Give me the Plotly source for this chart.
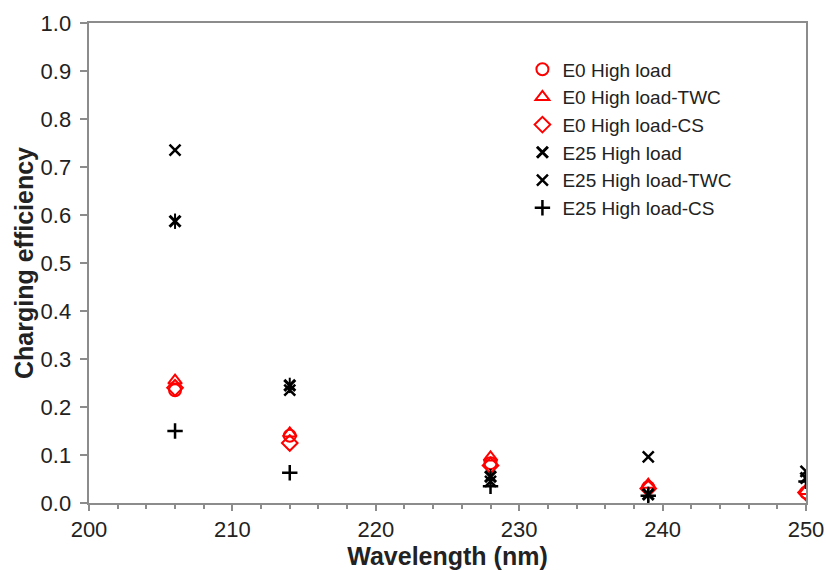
import plotly.graph_objects as go

wavelength = [206, 214, 228, 239, 250]
e0_high = [0.235, 0.140, 0.083, 0.033, 0.022]
e0_high_twc = [0.255, 0.145, 0.095, 0.038, 0.025]
e0_high_cs = [0.240, 0.125, 0.078, 0.030, 0.022]
e25_high = [0.587, 0.245, 0.055, 0.018, 0.052]
e25_high_twc = [0.735, 0.235, 0.045, 0.096, 0.066]
e25_high_cs = [0.150, 0.063, 0.035, 0.015, 0.045]

RED = "#ff0000"
BLK = "#000000"
FONT = "Liberation Sans, Arial"
fig = go.Figure()

def add(name, y, symbol, color, size=11, lw=2, show=True, group=None):
    fig.add_trace(go.Scatter(
        x=wavelength, y=y, mode="markers", name=name, showlegend=show,
        legendgroup=group or name,
        marker=dict(symbol=symbol, size=size, color=color,
                    line=dict(color=color, width=lw))))

add("E0 High load", e0_high, "circle-open", RED, 12)
add("E0 High load-TWC", e0_high_twc, "triangle-up-open", RED, 12)
add("E0 High load-CS", e0_high_cs, "diamond-open", RED, 12)
add("E25 High load", e25_high, "x-thin-open", BLK, 11, 3)
add("E25 High load", e25_high, "line-ns-open", BLK, 11, 2, show=False, group="E25 High load")
add("E25 High load-TWC", e25_high_twc, "x-thin-open", BLK, 11, 2.5)
add("E25 High load-CS", e25_high_cs, "cross-thin-open", BLK, 11, 2.5)

axis_common = dict(showline=True, linecolor="#8c8c8c", linewidth=2, mirror=True,
                   showgrid=False, zeroline=False, ticks="outside", automargin=False,
                   tickcolor="#8c8c8c", tickwidth=2,
                   tickfont=dict(family=FONT, size=22, color="#222"))

fig.update_xaxes(range=[200, 250], dtick=10, tick0=200, ticklen=6,
                 minor=dict(dtick=2, ticks="outside", ticklen=4, tickcolor="#8c8c8c", tickwidth=1.5),
                 title=dict(text="<b>Wavelength (nm)</b>", standoff=0,
                            font=dict(family=FONT, size=25, color="#222")),
                 **axis_common)
fig.update_yaxes(range=[0, 1.0], dtick=0.1, tickformat=".1f", ticklen=7,
                 ticksuffix="\u2009",
                 title=dict(text="<b>Charging efficiency</b>", standoff=0,
                            font=dict(family=FONT, size=25, color="#222")),
                 **axis_common)

fig.update_layout(
    width=826, height=570,
    margin=dict(l=89, r=20, t=23, b=67),
    plot_bgcolor="white", paper_bgcolor="white",
    showlegend=True,
    legend=dict(x=0.6045, y=0.943, xanchor="left", yanchor="top",
                bgcolor="rgba(0,0,0,0)", itemwidth=30, tracegroupgap=0,
                font=dict(family=FONT, size=19, color="#222")),
)

fig.write_html("out.html",
               config={"displayModeBar": False},
               post_script="document.body.style.margin='0';document.body.style.overflow='hidden';")
